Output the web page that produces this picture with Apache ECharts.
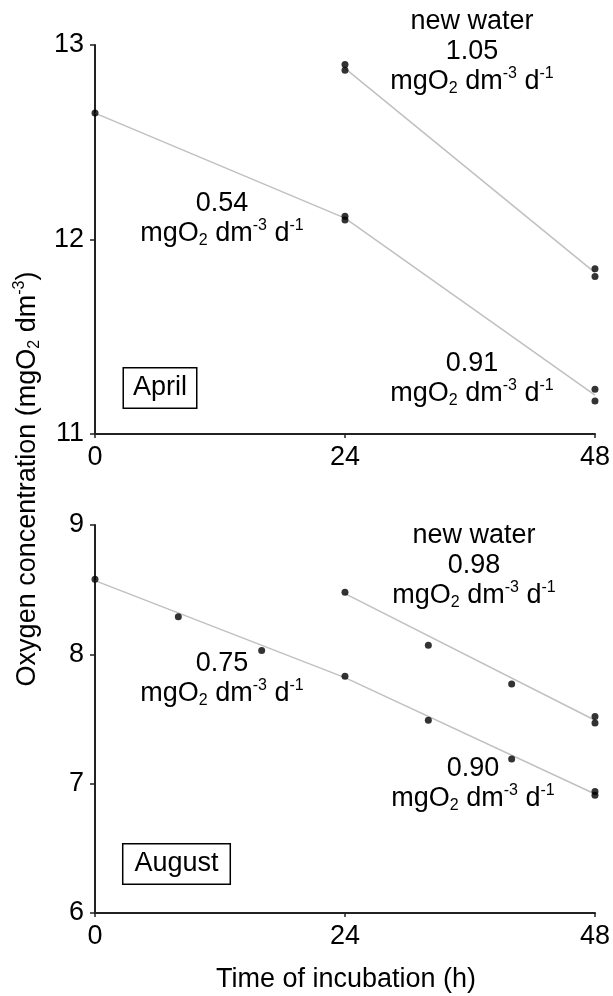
<!DOCTYPE html>
<html>
<head>
<meta charset="utf-8">
<script src="https://cdn.jsdelivr.net/npm/echarts@6/dist/echarts.min.js"></script>
<style>
  html, body { margin: 0; padding: 0; background: #fff; }
  #chart { width: 613px; height: 996px; }
</style>
</head>
<body>
<div id="chart"></div>
<script>
const FONT = '"Liberation Sans", Arial, sans-serif';

// April measurements
const aprilHours = [0, 24, 24, 48, 48];
const aprilOld = [12.65, 12.12, 12.10, 11.23, 11.17];
const aprilNewHours = [24, 24, 48, 48];
const aprilNew = [12.90, 12.87, 11.85, 11.81];
// April rate lines
const aprilFitHours = [0, 24, 48];
const aprilFit = [12.65, 12.11, 11.20];
const aprilNewFitHours = [24, 48];
const aprilNewFit = [12.88, 11.83];

// August measurements
const augHours = [0, 8, 16, 24, 32, 40, 48, 48];
const augOld = [8.58, 8.29, 8.03, 7.83, 7.49, 7.19, 6.94, 6.91];
const augNewHours = [24, 32, 40, 48, 48];
const augNew = [8.48, 8.07, 7.77, 7.52, 7.47];
// August rate lines
const augFitHours = [0, 24, 48];
const augFit = [8.57, 7.82, 6.92];
const augNewFitHours = [24, 48];
const augNewFit = [8.47, 7.49];

const zip = (xs, ys) => xs.map((x, i) => [x, ys[i]]);

const unit = '{n|mgO}{sub|2}{n| dm}{sup|-3}{n| d}{sup|-1}';
const rich = {
  n: { fontSize: 27, fontFamily: FONT, color: '#000', lineHeight: 30 },
  sub: { fontSize: 16, fontFamily: FONT, color: '#000', lineHeight: 30, padding: [14, 0, 0, 0] },
  sup: { fontSize: 16, fontFamily: FONT, color: '#000', lineHeight: 30, padding: [0, 0, 16, 0] }
};

function note(x, y, lines) {
  return {
    type: 'text',
    x: x, y: y,
    style: {
      text: lines.join('\n'),
      rich: rich,
      align: 'center',
      verticalAlign: 'middle'
    }
  };
}

function boxLabel(x, y, text, padH) {
  return {
    type: 'text',
    x: x, y: y,
    style: {
      text: text,
      fontSize: 27,
      fontFamily: FONT,
      fill: '#000',
      align: 'center',
      verticalAlign: 'middle',
      backgroundColor: '#fff',
      borderColor: '#000',
      borderWidth: 1.5,
      padding: [7, padH, 5, padH]
    }
  };
}

function xAxis(gridIndex) {
  return {
    type: 'value', gridIndex: gridIndex,
    min: 0, max: 48, interval: 24,
    axisLine: { show: true, lineStyle: { color: '#222', width: 2 } },
    axisTick: { show: true, length: 4, lineStyle: { color: '#222', width: 1.5 } },
    axisLabel: { fontSize: 27, fontFamily: FONT, color: '#000', margin: 10 },
    splitLine: { show: false }
  };
}

function yAxis(gridIndex, min, max) {
  return {
    type: 'value', gridIndex: gridIndex,
    min: min, max: max, interval: 1,
    axisLine: { show: true, lineStyle: { color: '#222', width: 2 } },
    axisTick: { show: true, length: 5, lineStyle: { color: '#222', width: 1.5 } },
    axisLabel: { fontSize: 27, fontFamily: FONT, color: '#000', margin: 11 },
    splitLine: { show: false }
  };
}

function fitLine(idx, data) {
  return {
    type: 'line', xAxisIndex: idx, yAxisIndex: idx,
    data: data, showSymbol: false, silent: true,
    lineStyle: { color: '#c0c0c0', width: 1.5 },
    z: 1
  };
}

function dots(idx, data) {
  return {
    type: 'scatter', xAxisIndex: idx, yAxisIndex: idx,
    data: data, symbolSize: 7,
    itemStyle: { color: '#000' },
    z: 3
  };
}

const chart = echarts.init(document.getElementById('chart'));
chart.setOption({
  animation: false,
  backgroundColor: '#fff',
  grid: [
    { left: 95, right: 16, top: 45, height: 389 },
    { left: 95, right: 16, top: 525, height: 388 }
  ],
  xAxis: [xAxis(0), xAxis(1)],
  yAxis: [yAxis(0, 11, 13), yAxis(1, 6, 9)],
  series: [
    fitLine(0, zip(aprilFitHours, aprilFit)),
    fitLine(0, zip(aprilNewFitHours, aprilNewFit)),
    dots(0, zip(aprilHours, aprilOld)),
    dots(0, zip(aprilNewHours, aprilNew)),
    fitLine(1, zip(augFitHours, augFit)),
    fitLine(1, zip(augNewFitHours, augNewFit)),
    dots(1, zip(augHours, augOld)),
    dots(1, zip(augNewHours, augNew))
  ],
  graphic: [
    note(472, 52, ['{n|new water}', '{n|1.05}', unit]),
    note(222, 219, ['{n|0.54}', unit]),
    note(472, 379, ['{n|0.91}', unit]),
    note(474, 566, ['{n|new water}', '{n|0.98}', unit]),
    note(222, 679, ['{n|0.75}', unit]),
    note(473, 784, ['{n|0.90}', unit]),
    boxLabel(160, 388, 'April', 9),
    boxLabel(176.5, 864, 'August', 11),
    {
      type: 'text', x: 28, y: 479, rotation: Math.PI / 2,
      style: {
        text: '{n|Oxygen concentration (mgO}{sub|2}{n| dm}{sup|-3}{n|)}',
        rich: rich, align: 'center', verticalAlign: 'middle'
      }
    },
    {
      type: 'text', x: 346, y: 980,
      style: {
        text: 'Time of incubation (h)', fontSize: 27, fontFamily: FONT,
        fill: '#000', align: 'center', verticalAlign: 'middle'
      }
    }
  ]
});
</script>
</body>
</html>
